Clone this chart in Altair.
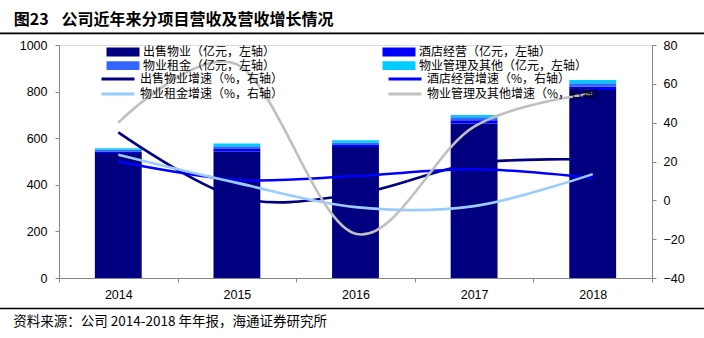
import altair as alt
import pandas as pd

years = ["2014", "2015", "2016", "2017", "2018"]

bar_names = ["出售物业（亿元，左轴）", "酒店经营（亿元，左轴）", "物业租金（亿元，左轴）", "物业管理及其他（亿元，左轴）"]
bar_colors = ["#000080", "#0000FF", "#3366FF", "#00CCFF"]
sales = [536, 543, 562, 663, 807]
hotel = [7, 11, 9, 14, 14]
rent = [7, 11, 10, 13, 15]
mgmt = [7, 12, 10, 10, 14]

line_names = ["出售物业增速（%，右轴）", "酒店经营增速（%，右轴）", "物业租金增速（%，右轴）", "物业管理及其他增速（%，右轴）"]
line_colors = ["#000080", "#0000FF", "#99CCFF", "#C0C0C0"]
sales_g = [35, 1.5, 3.2, 19, 21]
hotel_g = [20, 10.5, 12.5, 16, 11.5]
rent_g = [23.5, 9, -3.5, -3, 13.5]
mgmt_g = [40, 70, -17.2, 38, 55]

left_ticks = [0, 200, 400, 600, 800, 1000]
right_ticks = [-40, -20, 0, 20, 40, 60, 80]

title_num = "图23"
title_text = "公司近年来分项目营收及营收增长情况"
source_text = "资料来源：公司 2014-2018 年年报，海通证券研究所"

W, H = 593, 233
AXIS_GRAY = "#868686"
NUM_FONT = "Liberation Sans"
CJK_FONT = "Noto Sans CJK SC"

bar_rows = []
for i, y in enumerate(years):
    for k, (name, vals) in enumerate(zip(bar_names, [sales, hotel, rent, mgmt])):
        bar_rows.append({"year": y, "series": name, "value": vals[i], "order": k})
bar_df = pd.DataFrame(bar_rows)

line_rows = []
for k, (name, vals) in enumerate(zip(line_names, [sales_g, hotel_g, rent_g, mgmt_g])):
    for i, y in enumerate(years):
        line_rows.append({"year": y, "series": name, "value": vals[i], "order": k})
line_df = pd.DataFrame(line_rows)

x_enc = alt.X(
    "year:N", sort=years,
    scale=alt.Scale(paddingInner=0, paddingOuter=0),
    axis=alt.Axis(title=None, labelAngle=0, tickBand="extent", tickSize=4,
                  tickColor=AXIS_GRAY, domainColor=AXIS_GRAY, labelPadding=6,
                  labelFont=NUM_FONT, labelFontSize=12.5, labelColor="#000000"),
)

bars = alt.Chart(bar_df).mark_bar(width=alt.RelativeBandSize(0.395)).encode(
    x=x_enc,
    y=alt.Y("value:Q", stack="zero",
            scale=alt.Scale(domain=[0, 1000], nice=False, zero=True),
            axis=alt.Axis(title=None, orient="left", values=left_ticks, grid=False,
                          format="d",
                          tickSize=4, tickColor=AXIS_GRAY, domainColor=AXIS_GRAY,
                          labelPadding=8, labelFont=NUM_FONT, labelFontSize=12.5,
                          labelColor="#000000")),
    fill=alt.Fill("series:N", sort=bar_names,
                  scale=alt.Scale(domain=bar_names, range=bar_colors),
                  legend=alt.Legend(title=None, orient="none", legendX=58, legendY=1,
                                    direction="horizontal",
                                    columns=2, columnPadding=106, rowPadding=1.6,
                                    symbolType="M-3,-0.8H3V0.8H-3Z", symbolSize=121,
                                    symbolStrokeWidth=0, symbolOpacity=1,
                                    labelFont=CJK_FONT, labelFontSize=12,
                                    labelColor="#000000", labelOffset=14,
                                    labelLimit=400, padding=0)),
    order=alt.Order("order:Q", sort="ascending"),
)

lines = alt.Chart(line_df).mark_line(interpolate="cardinal", strokeWidth=2.6).encode(
    x=x_enc,
    y=alt.Y("value:Q",
            scale=alt.Scale(domain=[-40, 80], nice=False, zero=False),
            axis=alt.Axis(title=None, orient="right", values=right_ticks, grid=False,
                          tickSize=4, tickColor=AXIS_GRAY, domainColor=AXIS_GRAY,
                          labelPadding=7, labelFont=NUM_FONT, labelFontSize=12.5,
                          labelColor="#000000")),
    stroke=alt.Stroke("series:N", sort=line_names,
                      scale=alt.Scale(domain=line_names, range=line_colors),
                      legend=alt.Legend(title=None, orient="none", legendX=52, legendY=27,
                                        direction="horizontal",
                                        columns=2, columnPadding=98, rowPadding=2,
                                        symbolType="M-3,0H3", symbolSize=121,
                                        symbolStrokeWidth=3, symbolOpacity=1,
                                        labelFont=CJK_FONT, labelFontSize=12,
                                        labelColor="#000000", labelOffset=15,
                                        labelLimit=400, padding=0)),
    detail="series:N",
)

one = pd.DataFrame({"a": [0]})

top_rule = alt.Chart(one).mark_rule(color="#000000", strokeWidth=1.8).encode(
    x=alt.value(-59), x2=alt.value(645), y=alt.value(-11.7))
bottom_rule = alt.Chart(one).mark_rule(color="#000000", strokeWidth=1.5).encode(
    x=alt.value(-59), x2=alt.value(645), y=alt.value(263.5))

t1 = alt.Chart(pd.DataFrame({"t": [title_num]})).mark_text(
    align="left", baseline="middle", font=CJK_FONT, fontSize=16, fontWeight="bold",
    color="#000000").encode(x=alt.value(-45.3), y=alt.value(-25), text="t:N")
t2 = alt.Chart(pd.DataFrame({"t": [title_text]})).mark_text(
    align="left", baseline="middle", font=CJK_FONT, fontSize=16, fontWeight="bold",
    color="#000000").encode(x=alt.value(2.4), y=alt.value(-25), text="t:N")
src = alt.Chart(pd.DataFrame({"t": [source_text]})).mark_text(
    align="left", baseline="middle", font=CJK_FONT, fontSize=13.5,
    color="#000000").encode(x=alt.value(-45.7), y=alt.value(277), text="t:N")

chart = alt.layer(bars, lines, top_rule, bottom_rule, t1, t2, src).resolve_scale(
    y="independent"
).properties(
    width=W, height=H,
    autosize=alt.AutoSizeParams(type="none"),
    padding={"left": 59, "top": 45, "right": 52, "bottom": 60},
).configure_view(stroke=None).configure(background="#FFFFFF")

chart.save("out.html", embed_options={"renderer": "svg", "actions": False})
